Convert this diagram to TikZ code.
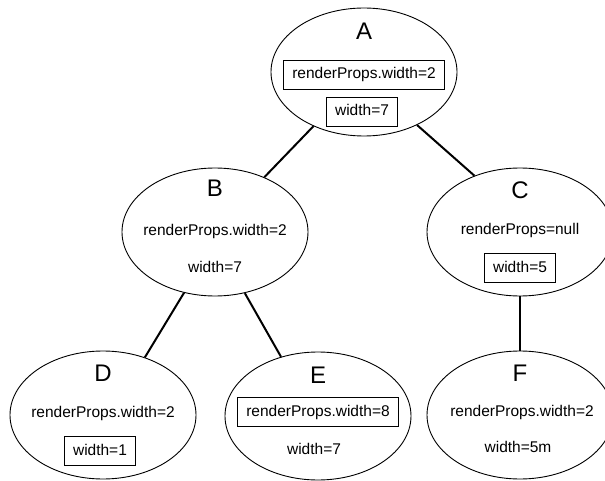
\documentclass[tikz,border=0pt]{standalone}
\usepackage{fontspec}
\setmainfont{Liberation Sans}
\usetikzlibrary{shapes.geometric}
\begin{document}
\begin{tikzpicture}[x=1pt,y=-1pt,
  treenode/.style={ellipse,draw,line width=0.9pt,minimum width=186pt,minimum height=128pt,inner sep=0pt},
  letter/.style={font=\fontsize{24}{28}\selectfont,text height=17pt,text depth=0pt,inner sep=0pt},
  prop/.style={font=\fontsize{15.5}{18}\selectfont,text height=11.5pt,text depth=3.5pt,inner sep=0pt},
  propbox/.style={prop,draw,line width=1pt,inner xsep=8.5pt,minimum height=29pt},
  edge/.style={line width=2pt}]
\useasboundingbox (0,0) rectangle (605,481);
\clip (0,0) rectangle (605,481);
% A
\node[treenode] (A) at (364,72) {};
\node[letter] (Al) at (364,31) {A};
\node[propbox] (A1) at (364,75) {renderProps.width=2};
\node[propbox] (A2) at (362,112) {width=7};
% B
\node[treenode] (B) at (215,232) {};
\node[letter] (Bl) at (215,188) {B};
\node[prop] (B1) at (215,232) {renderProps.width=2};
\node[prop] (B2) at (215,268) {width=7};
% C
\node[treenode] (C) at (520,232) {};
\node[letter] (Cl) at (520,190) {C};
\node[prop] (C1) at (520,230) {renderProps=null};
\node[propbox] (C2) at (520,268) {width=5};
% D
\node[treenode] (D) at (103,415) {};
\node[letter] (Dl) at (103,373) {D};
\node[prop] (D1) at (103,413) {renderProps.width=2};
\node[propbox] (D2) at (100,451) {width=1};
% E
\node[treenode] (E) at (318,416) {};
\node[letter] (El) at (318,375) {E};
\node[propbox] (E1) at (318,412) {renderProps.width=8};
\node[prop] (E2) at (314,450) {width=7};
% F
\node[treenode] (F) at (520,415) {};
\node[letter] (Fl) at (520,373) {F};
\node[prop] (F1) at (522,412) {renderProps.width=2};
\node[prop] (F2) at (518,448) {width=5m};
% edges
\draw[edge] (A.227) -- (B.48);
\draw[edge] (A.-45) -- (C.129);
\draw[edge] (B.243) -- (D.54);
\draw[edge] (B.296) -- (E.122);
\draw[edge] (C.south) -- (F.north);
\end{tikzpicture}
\end{document}
